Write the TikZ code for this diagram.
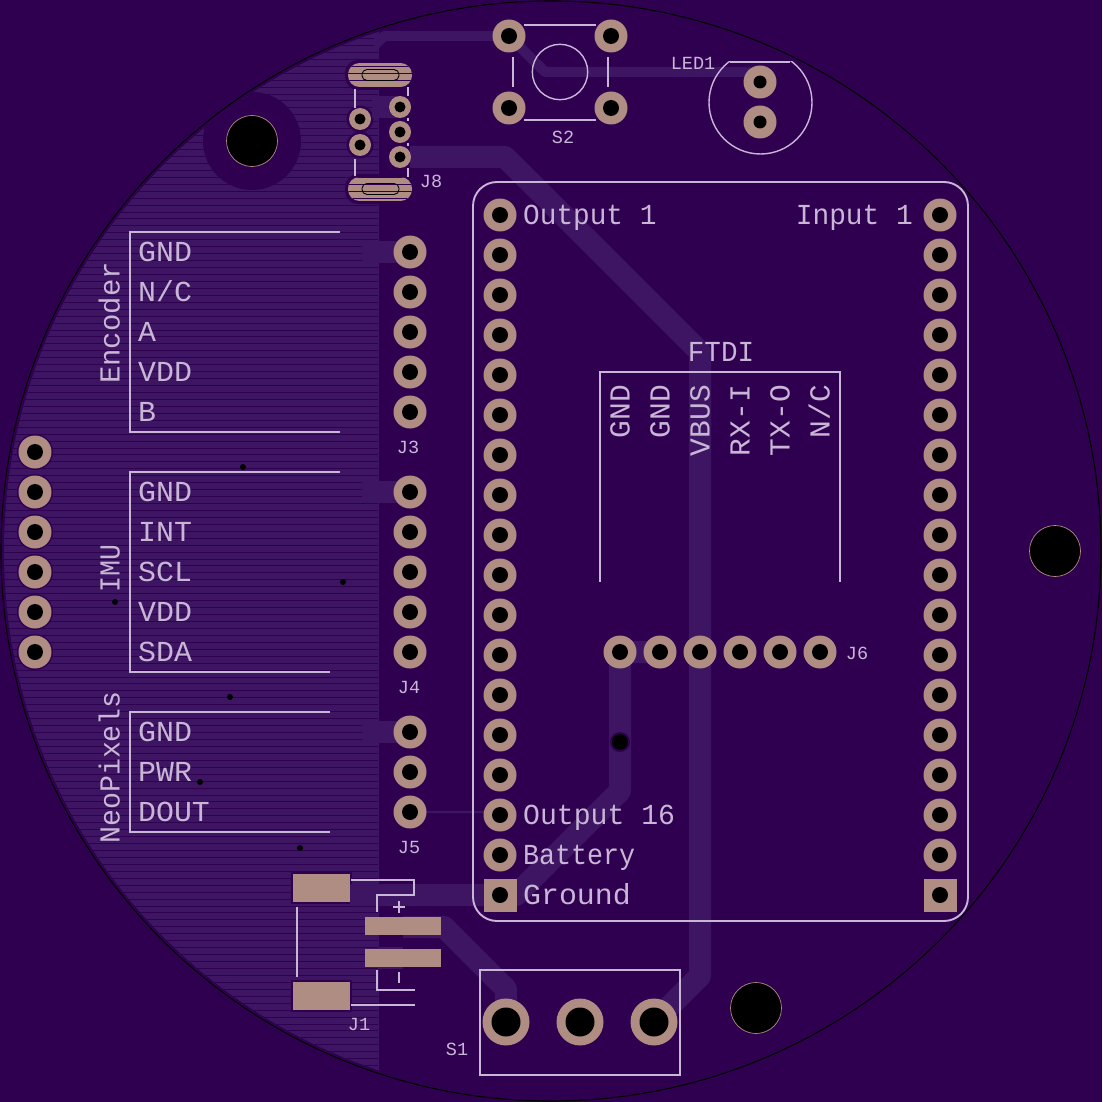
\documentclass[tikz,border=0pt]{standalone}
\usepackage{fontspec}
\setmainfont{Liberation Mono}
\definecolor{bgc}{HTML}{300050}
\definecolor{cu}{HTML}{3E1562}
\definecolor{padc}{HTML}{B08D82}
\definecolor{silkc}{HTML}{C8B6D6}
\newcommand{\bigfont}{\fontsize{29}{29}\selectfont}
\newcommand{\smallfont}{\fontsize{18.5}{18.5}\selectfont}
\newcommand{\padat}[2]{\fill[padc] (#1,#2) circle[radius=16.5pt]; \fill[black] (#1,#2) circle[radius=8pt];}
\newcommand{\halo}[2]{\fill[bgc] (#1,#2) circle[radius=18pt];}
\tikzset{
  silk/.style={draw=silkc,line width=1.9pt,line cap=butt},
  trace/.style={draw=cu,line width=22pt,line join=round},
  thintrace/.style={draw=cu,line width=10pt,line join=round},
  lab/.style={text=silkc,font=\bigfont,inner sep=0pt,text height=19pt,text depth=0pt},
  slab/.style={text=silkc,font=\smallfont,inner sep=0pt,text height=12.2pt,text depth=0pt},
  hatchline/.style={draw=bgc,line width=0.8pt},
}
\begin{document}
\begin{tikzpicture}[x=1pt,y=-1pt]
\useasboundingbox (0,0) rectangle (1102,1102);
\fill[bgc] (0,0) rectangle (1102,1102);
% copper pour with hatching
\begin{scope}
  \clip (551,551) circle[radius=547pt];
  \clip (0,0) rectangle (379,1102);
  \fill[cu] (0,0) rectangle (379,1102);
  \foreach \kk in {-124,...,30} {\draw[hatchline] (0,864.3+6.94*\kk) -- (378,864.3+6.94*\kk);}
  \fill[bgc] (252,141) circle[radius=49pt];
  \foreach \xx/\yy in {35/452,35/492,35/532,35/572,35/612,35/652} {\halo{\xx}{\yy}}
  \foreach \xx/\yy in {360/119,360/145} {\fill[bgc] (\xx,\yy) circle[radius=13.5pt];}
  \fill[bgc,rounded corners=13pt] (345,60) rectangle (415,90);
  \fill[bgc,rounded corners=13pt] (345,174) rectangle (415,204);
  \fill[bgc] (291,872) rectangle (352,904);
  \fill[bgc] (291,980) rectangle (352,1012);
\end{scope}
% traces
\draw[thintrace] (509,36) -- (384,36) -- (374,46);
\draw[thintrace] (509,36) -- (545,72) -- (750,72) -- (760,82);
\draw[trace] (410,157) -- (505,157) -- (700,352) -- (700,976) -- (654,1022);
\draw[trace] (372,107) -- (400,107);
\draw[trace] (362,252) -- (410,252);
\draw[trace] (362,492) -- (410,492);
\draw[trace] (362,732) -- (410,732);
\draw[trace] (660,652) -- (620,652) -- (620,791) -- (516,895) -- (350,895);
\draw[trace] (403,927) -- (444,927) -- (506,989) -- (506,1022);
\draw[trace] (379,958) -- (403,958);
\draw[cu,line width=2pt] (410,812) -- (490,812) -- (500,815);
% mounting holes
\foreach \xx/\yy in {252/141,1055/551,756/1008} {\filldraw[fill=black,draw=padc,line width=0.7pt] (\xx,\yy) circle[radius=25.5pt];}
% through-hole pads
\foreach \yy in {452,492,532,572,612,652} {\padat{35}{\yy}}
\foreach \yy in {252,292,332,372,412,492,532,572,612,652,732,772,812} {\padat{410}{\yy}}
\foreach \yy in {215,255,...,855} {\padat{500}{\yy}\padat{940}{\yy}}
\foreach \xx in {500,940} {\fill[padc] (\xx-16.5,878.5) rectangle (\xx+16.5,911.5); \fill[black] (\xx,895) circle[radius=8pt];}
\foreach \xx in {620,660,...,820} {\padat{\xx}{652}}
\foreach \xx/\yy in {509/36,611/36,509/108,611/108,760/82,760/122} {\fill[padc] (\xx,\yy) circle[radius=16.5pt];}
\foreach \xx/\yy in {509/36,611/36,509/108,611/108} {\fill[black] (\xx,\yy) circle[radius=8pt];}
\foreach \xx/\yy in {760/82,760/122} {\fill[black] (\xx,\yy) circle[radius=6.5pt];}
\foreach \xx/\yy in {360/119,360/145,400/107,400/132,400/157} {\fill[padc] (\xx,\yy) circle[radius=11pt]; \fill[black] (\xx,\yy) circle[radius=5.5pt];}
\foreach \xx in {506,580,654} {\fill[padc] (\xx,1022) circle[radius=23.5pt]; \fill[black] (\xx,1022) circle[radius=14.5pt];}
% J8 oblong pads
\foreach \yy in {75,189} {
  \begin{scope}
    \clip[rounded corners=11.5pt] (348,\yy-12) rectangle (412,\yy+12);
    \fill[padc] (348,\yy-12) rectangle (412,\yy+12);
    \foreach \kk in {-116,...,-95} {\draw[hatchline] (348,864.3+6.94*\kk) -- (412,864.3+6.94*\kk);}
  \end{scope}
  \draw[black,line width=0.9pt,rounded corners=5pt] (362,\yy-5.5) rectangle (399,\yy+5.5);
}
% SMD pads
\fill[padc] (293,874) rectangle (350,902);
\fill[padc] (293,982) rectangle (350,1010);
\fill[padc] (365,917) rectangle (441,935);
\fill[padc] (365,949) rectangle (441,967);
% small holes
\foreach \xx/\yy in {115/602,243/467,343/582,230/697,200/782,300/848} {\fill[black] (\xx,\yy) circle[radius=3pt];}
\fill[bgc] (620,742) circle[radius=10pt];
\fill[black] (620,742) circle[radius=8pt];
% board outline
\draw[black,line width=1.1pt] (551,551) circle[radius=550pt];
% silkscreen
\draw[silk,rounded corners=24pt] (473,182) rectangle (968,921);
\draw[silk] (340,232) -- (130,232) -- (130,432) -- (340,432);
\draw[silk] (340,472) -- (130,472) -- (130,672) -- (330,672);
\draw[silk] (330,712) -- (130,712) -- (130,832) -- (330,832);
\draw[silk] (600,582) -- (600,372) -- (840,372) -- (840,582);
\draw[silk] (480,970) rectangle (680,1075);
\draw[silk] (524,25) -- (596,25) (524,120) -- (596,120) (513,57) -- (513,87) (608,57) -- (608,87);
\draw[silk,line width=1.4pt] (560,72) circle[radius=27.7pt];
\draw[silk,line width=1.4pt] (730,62) -- (790,62);
\begin{scope}
  \clip (700,62) rectangle (820,160);
  \draw[silk,line width=1.4pt] (760.5,102.5) circle[radius=51.5pt];
\end{scope}
\draw[silk] (355,89) -- (355,108) (355,159) -- (355,176) (408,87) -- (408,96) (408,118) -- (408,121) (408,143) -- (408,146) (408,168) -- (408,177);
\draw[silk] (297,907) -- (297,977);
\draw[silk] (351,880) -- (414,880) -- (414,895) -- (377,895) -- (377,912);
\draw[silk] (351,1005) -- (415,1005);
\draw[silk] (377,970) -- (377,990) -- (415,990);
\draw[silk] (393,907) -- (405,907) (399,901) -- (399,913);
\draw[silk] (399,972) -- (399,983);
% labels
\foreach \tt/\yy in {GND/252,N\slash C/292,A/332,VDD/372,B/412,GND/492,INT/532,SCL/572,VDD/612,SDA/652,GND/732,PWR/772,DOUT/812} {\node[lab,anchor=west,xscale=1.03] at (138,\yy) {\tt};}
\node[lab,anchor=west,rotate=90] (enc) at (110,384) {Encoder};
\node[lab,anchor=west,rotate=90,xscale=.92] (imu) at (110,593) {IMU};
\node[lab,anchor=west,rotate=90,xscale=.975] (neo) at (110,844) {NeoPixels};
\foreach \tt/\xx in {GND/620,GND/660,VBUS/700,RX-I/740,TX-O/780,N\slash C/820} {\node[lab,anchor=east,rotate=90,xscale=1.02] at (\xx,385) {\tt};}
\node[lab,anchor=center,xscale=.95] (ftdi) at (721,352) {FTDI};
\node[lab,anchor=west,xscale=.957] (o1) at (523,215) {Output 1};
\node[lab,anchor=east,xscale=.96] (i1) at (913,215) {Input 1};
\node[lab,anchor=west,xscale=.97] (o16) at (523,815) {Output 16};
\node[lab,anchor=west,xscale=.92] (bat) at (523,855) {Battery};
\node[lab,anchor=west,xscale=1.03] (gnd) at (523,895) {Ground};
\node[slab,anchor=center] at (693,63) {LED1};
\node[slab,anchor=center] at (563,137) {S2};
\node[slab,anchor=center] at (431,181) {J8};
\node[slab,anchor=center] at (408,447) {J3};
\node[slab,anchor=center] at (409,687) {J4};
\node[slab,anchor=center] at (409,847) {J5};
\node[slab,anchor=center] at (857,653) {J6};
\node[slab,anchor=center] at (359,1024) {J1};
\node[slab,anchor=center] at (457,1049) {S1};
\end{tikzpicture}
\end{document}
